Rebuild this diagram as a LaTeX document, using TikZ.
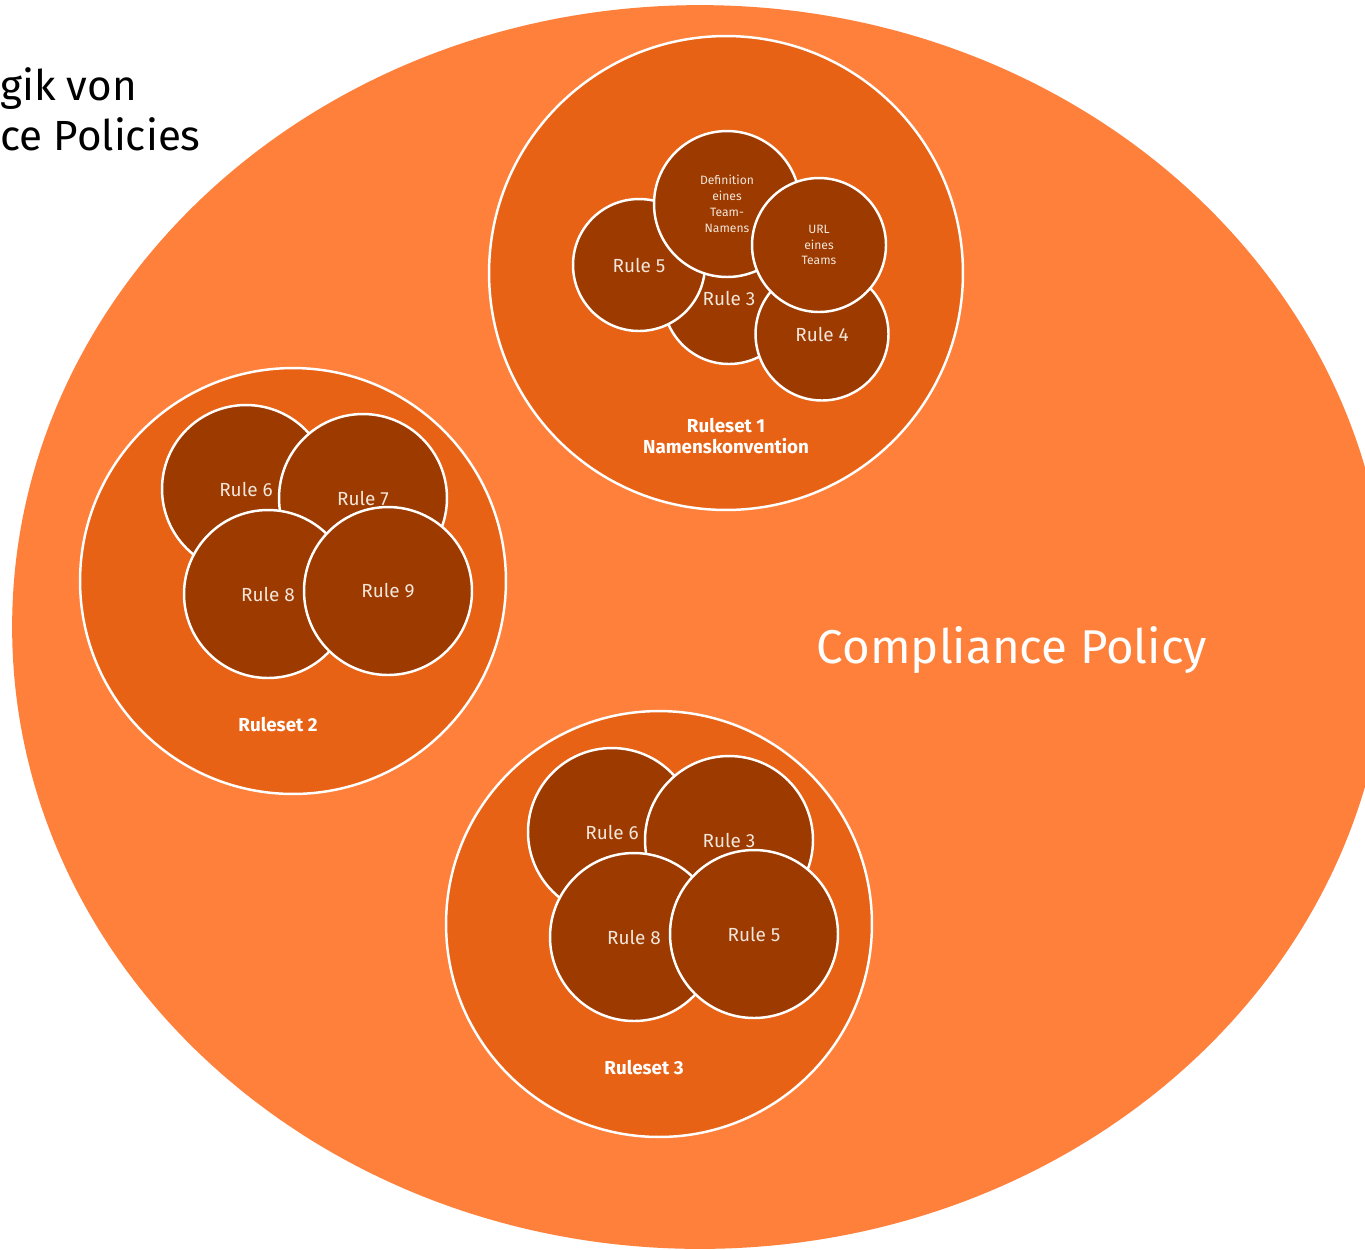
\documentclass[tikz,border=0pt]{standalone}
\usepackage{fontspec}
\setmainfont{Fira Sans}
\definecolor{policyorange}{HTML}{FE803B}
\definecolor{rulesetorange}{HTML}{E86216}
\definecolor{rulebrown}{HTML}{9C3A00}
\definecolor{ruletext}{HTML}{F3E6DA}

\begin{document}
\begin{tikzpicture}[x=0.02cm,y=-0.02cm,
	ruleset/.style={circle, draw=white, line width=1.4pt, fill=rulesetorange, inner sep=0pt},
	rule/.style={circle, draw=white, line width=1.4pt, fill=rulebrown, inner sep=0pt,
		text=ruletext, font=\fontsize{10.8}{13}\selectfont},
	smallrule/.style={rule, align=center, font=\fontsize{6.9}{9}\selectfont},
	setlabel/.style={text=white, align=center, font=\bfseries\fontsize{10.7}{12.5}\selectfont}]
	%%%%% START %%%%%
	\useasboundingbox (0,0) rectangle (1365,1249);
	\clip (0,0) rectangle (1365,1249);
	\fill[white] (0,0) rectangle (1365,1249);
	
	\fill[policyorange] (700,627) ellipse [x radius=13.76cm, y radius=12.44cm];
	\node[anchor=base west, inner sep=0pt, font=\fontsize{24}{28}\selectfont] (title1) at (0,100) {gik von};
	\node[anchor=base west, inner sep=0pt, font=\fontsize{24}{28}\selectfont] (title2) at (0,150) {ce Policies};
	\node[text=white, font=\fontsize{27}{32}\selectfont] (policy) at (1012,650) {Compliance Policy};
	
	% Ruleset 1
	\node[ruleset, minimum size=9.48cm] (set1) at (726,273) {};
	\node[rule, minimum size=2.64cm] (s1r3) at (729,298) {Rule 3};
	\node[rule, minimum size=2.64cm] (s1r5) at (639,265) {Rule 5};
	\node[rule, minimum size=2.66cm] (s1r4) at (822,334) {Rule 4};
	\node[smallrule, minimum size=2.92cm] (s1def) at (727,204) {Definition\\eines\\Team-\\Namens};
	\node[smallrule, minimum size=2.68cm] (s1url) at (819,245) {URL\\eines\\Teams};
	\node[setlabel] (set1label) at (726,436) {Ruleset 1\\Namenskonvention};
	
	% Ruleset 2
	\node[ruleset, minimum size=8.52cm] (set2) at (293,581) {};
	\node[rule, minimum size=3.36cm] (s2r6) at (246,489) {Rule 6};
	\node[rule, minimum size=3.36cm] (s2r7) at (363,498) {Rule 7};
	\node[rule, minimum size=3.36cm] (s2r8) at (268,594) {Rule 8};
	\node[rule, minimum size=3.36cm] (s2r9) at (388,591) {Rule 9};
	\node[setlabel] (set2label) at (278,725) {Ruleset 2};
	
	% Ruleset 3
	\node[ruleset, minimum size=8.52cm] (set3) at (659,924) {};
	\node[rule, minimum size=3.36cm] (s3r6) at (612,832) {Rule 6};
	\node[rule, minimum size=3.36cm] (s3r3) at (729,840) {Rule 3};
	\node[rule, minimum size=3.36cm] (s3r8) at (634,937) {Rule 8};
	\node[rule, minimum size=3.36cm] (s3r5) at (754,934) {Rule 5};
	\node[setlabel] (set3label) at (644,1068) {Ruleset 3};
	%%%%% END %%%%%
\end{tikzpicture}
\end{document}
